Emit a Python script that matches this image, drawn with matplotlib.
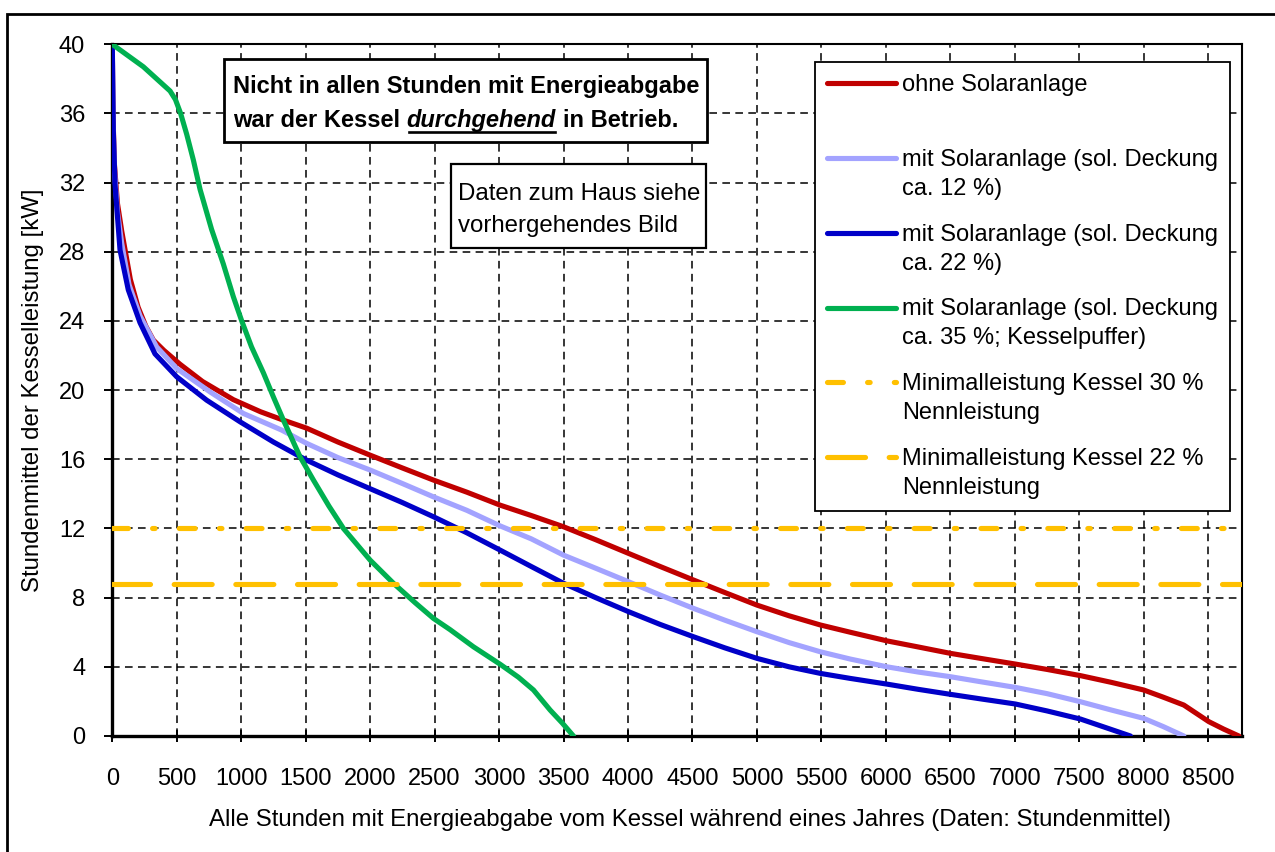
import numpy as np
import matplotlib
matplotlib.use("Agg")
import matplotlib.pyplot as plt
from matplotlib.patches import Rectangle
from matplotlib.lines import Line2D
from matplotlib.legend_handler import HandlerLine2D

plt.rcParams['font.family'] = ['Liberation Sans', 'DejaVu Sans']

# ---------------- data ----------------
x_ohne = [0, 5, 16, 40, 73, 140, 200, 260, 318, 400, 525, 700, 939, 1150, 1314, 1508, 1750,
          2000, 2250, 2491, 2750, 3008, 3250, 3500, 3750, 4004, 4250, 4508, 4750, 5000, 5250,
          5492, 5724, 6009, 6250, 6500, 6750, 7005, 7250, 7510, 7750, 8000, 8150, 8311, 8505,
          8620, 8738]
y_ohne = [40, 36, 33.1, 30.8, 29.2, 26.4, 24.8, 23.7, 22.9, 22.3, 21.5, 20.5, 19.45, 18.75, 18.3,
          17.8, 17.0, 16.24, 15.5, 14.8, 14.1, 13.35, 12.75, 12.1, 11.35, 10.56, 9.8, 9.02, 8.3,
          7.57, 6.95, 6.42, 6.0, 5.5, 5.15, 4.78, 4.47, 4.16, 3.85, 3.49, 3.1, 2.66, 2.25, 1.79,
          0.83, 0.4, 0.0]

x_sol12 = [0, 5, 16, 40, 73, 130, 215, 344, 500, 758, 1017, 1314, 1508, 1750, 2000, 2250, 2491,
           2750, 3008, 3250, 3500, 3750, 4004, 4250, 4508, 4750, 5000, 5250, 5492, 5724, 6009,
           6250, 6500, 6750, 7005, 7250, 7510, 7750, 8000, 8150, 8311]
y_sol12 = [40, 35.5, 32.8, 30.3, 28.5, 26.1, 24.3, 22.5, 21.25, 19.9, 18.65, 17.69, 16.92, 16.1,
           15.38, 14.6, 13.83, 13.05, 12.15, 11.4, 10.46, 9.7, 8.92, 8.15, 7.38, 6.7, 6.03, 5.4,
           4.87, 4.45, 4.0, 3.7, 3.43, 3.12, 2.81, 2.45, 1.98, 1.5, 1.02, 0.55, 0.0]

x_sol22 = [0, 3, 8, 21, 60, 124, 215, 331, 500, 732, 991, 1250, 1508, 1750, 2000, 2250, 2491,
           2750, 3008, 3250, 3500, 3750, 4004, 4250, 4508, 4750, 5000, 5250, 5492, 5724, 6009,
           6250, 6500, 6750, 7005, 7250, 7510, 7700, 7897]
y_sol22 = [40, 38, 35, 31.9, 28.1, 25.8, 23.9, 22.1, 20.77, 19.42, 18.17, 17.0, 15.95, 15.1, 14.3,
           13.5, 12.68, 11.75, 10.75, 9.8, 8.83, 8.0, 7.19, 6.45, 5.74, 5.1, 4.49, 4.0, 3.62,
           3.33, 3.0, 2.7, 2.41, 2.13, 1.85, 1.45, 0.98, 0.5, 0.0]

x_sol35 = [0, 241, 448, 490, 530, 577, 629, 681, 770, 861, 939, 1004, 1080, 1172, 1250, 1327,
           1456, 1560, 1680, 1793, 2000, 2181, 2350, 2491, 2620, 2801, 3008, 3150, 3267, 3396,
           3490, 3577]
y_sol35 = [40, 38.7, 37.3, 36.8, 36.0, 34.8, 33.3, 31.6, 29.3, 27.3, 25.4, 24.0, 22.5, 21.0, 19.6,
           18.27, 16.15, 14.8, 13.3, 12.0, 10.17, 8.83, 7.7, 6.8, 6.15, 5.16, 4.15, 3.4, 2.66,
           1.5, 0.75, 0.0]

min30 = 12.0   # Minimalleistung 30 % der Nennleistung (40 kW)
min22 = 8.8    # Minimalleistung 22 % der Nennleistung
hours_year = [0, 8760]

labels = ["ohne Solaranlage\n ",
          "mit Solaranlage (sol. Deckung\nca. 12 %)",
          "mit Solaranlage (sol. Deckung\nca. 22 %)",
          "mit Solaranlage (sol. Deckung\nca. 35 %; Kesselpuffer)",
          "Minimalleistung Kessel 30 %\nNennleistung",
          "Minimalleistung Kessel 22 %\nNennleistung"]

x_ticks = list(range(0, 9000, 500))
y_ticks = list(range(0, 44, 4))

xlabel = "Alle Stunden mit Energieabgabe vom Kessel während eines Jahres (Daten: Stundenmittel)"
ylabel = "Stundenmittel der Kesselleistung [kW]"

# ---------------- figure ----------------
W, H = 1275, 852
fig = plt.figure(figsize=(W / 100, H / 100), dpi=100)
ax_l, ax_r, ax_t, ax_b = 112.3, 1241.7, 44.3, 736.0
ax = fig.add_axes([ax_l / W, 1 - ax_b / H, (ax_r - ax_l) / W, (ax_b - ax_t) / H])

def ax_x(px):
    return (px - ax_l) / (ax_r - ax_l)

def ax_y(py):
    return (ax_b - py) / (ax_b - ax_t)

red, lblue, blue, green, gold = "#C00000", "#A3A3FF", "#0000C8", "#00B050", "#FFC000"

lw = 3.7
l1, = ax.plot(x_ohne, y_ohne, color=red, lw=lw, solid_capstyle='round', solid_joinstyle='round',
              zorder=3, label=labels[0])
l2, = ax.plot(x_sol12, y_sol12, color=lblue, lw=lw, solid_capstyle='round', solid_joinstyle='round',
              zorder=3, label=labels[1])
l3, = ax.plot(x_sol22, y_sol22, color=blue, lw=lw, solid_capstyle='round', solid_joinstyle='round',
              zorder=3, label=labels[2])
l4, = ax.plot(x_sol35, y_sol35, color=green, lw=lw, solid_capstyle='round', solid_joinstyle='round',
              zorder=3, label=labels[3])
l5, = ax.plot(hours_year, [min30, min30], color=gold, lw=lw, zorder=3, label=labels[4],
              linestyle=(0, (3.1, 4.7, 0.5, 4.7)))
l6, = ax.plot(hours_year, [min22, min22], color=gold, lw=lw, zorder=3, label=labels[5],
              linestyle=(0, (7.4, 4.6)))
for ln in (l5, l6):
    ln.set_dash_capstyle('round')

ax.set_xlim(0, 8760)
ax.set_ylim(0, 40)
ax.set_xticks(x_ticks)
ax.set_yticks(y_ticks)
ax.set_xticklabels([str(v) for v in x_ticks])
ax.set_yticklabels([str(v) for v in y_ticks])
ax.tick_params(axis='x', direction='inout', length=8, width=1.4, pad=19, labelsize=17)
ax.tick_params(axis='y', direction='out', length=6, width=1.4, pad=13.5, labelsize=17)
ax.grid(True, color='black', linestyle=(0, (5.0, 3.5)), linewidth=1.1)
ax.set_axisbelow(True)
for s in ['left', 'bottom']:
    ax.spines[s].set_linewidth(2.4)
for s in ['top', 'right']:
    ax.spines[s].set_linewidth(1.5)

ax.set_xlabel(xlabel, fontsize=17.3)
ax.xaxis.set_label_coords(ax_x(690), ax_y(809))
ax.set_ylabel(ylabel, fontsize=17.3)
ax.yaxis.set_label_coords(ax_x(44), 0.5)

# ---------------- legend ----------------
class TopHandler(HandlerLine2D):
    def __init__(self, shift, **kw):
        super().__init__(**kw)
        self.shift = shift

    def create_artists(self, legend, orig_handle, xdescent, ydescent, width, height, fontsize, trans):
        arts = super().create_artists(legend, orig_handle, xdescent, ydescent, width, height,
                                      fontsize, trans)
        for a in arts:
            a.set_ydata(np.asarray(a.get_ydata(), dtype=float) + self.shift * fontsize)
        return arts

handles = [l1, l2, l3, l4, l5, l6]
hmap = {h: TopHandler(0.70) for h in handles}
leg = ax.legend(handles=handles, labels=labels, loc='upper right',
                bbox_to_anchor=(ax_x(1230), ax_y(62.3)), borderaxespad=0, fontsize=17,
                frameon=True, fancybox=False, edgecolor='black', framealpha=1,
                handlelength=2.95, handletextpad=0.25, borderpad=0.5, labelspacing=1.0,
                handler_map=hmap)
for t in leg.get_texts():
    t.set_linespacing(1.42)
leg.get_frame().set_linewidth(1.3)
leg.set_zorder(6)

# ---------------- text boxes ----------------
box1 = Rectangle((ax_x(224.3), ax_y(142.3)), ax_x(706.7) - ax_x(224.3), ax_y(59) - ax_y(142.3),
                 transform=ax.transAxes, facecolor='white', edgecolor='black', lw=2.0, zorder=5)
ax.add_patch(box1)
box2 = Rectangle((ax_x(450.7), ax_y(247.7)), ax_x(705.7) - ax_x(450.7), ax_y(164.3) - ax_y(247.7),
                 transform=ax.transAxes, facecolor='white', edgecolor='black', lw=1.6, zorder=5)
ax.add_patch(box2)

FSB = 17
ax.text(ax_x(233.3), ax_y(93.3), "Nicht in allen Stunden mit Energieabgabe", transform=ax.transAxes,
        fontsize=FSB, fontweight='bold', va='baseline', ha='left', zorder=7)
t2 = ax.text(ax_x(233.3), ax_y(126.7), "war der Kessel", transform=ax.transAxes,
             fontsize=FSB, fontweight='bold', va='baseline', ha='left', zorder=7)
t3 = ax.annotate("durchgehend", xy=(1, 0), xycoords=t2, xytext=(4.7, 0), textcoords='offset points',
                 fontsize=FSB, fontweight='bold', fontstyle='italic', va='bottom', ha='left', zorder=7)
t4 = ax.annotate("in Betrieb.", xy=(1, 0), xycoords=t3, xytext=(4.7, 0), textcoords='offset points',
                 fontsize=FSB, fontweight='bold', va='bottom', ha='left', zorder=7)

ax.text(ax_x(458.3), ax_y(200), "Daten zum Haus siehe", transform=ax.transAxes,
        fontsize=17.3, va='baseline', ha='left', zorder=7)
ax.text(ax_x(458.3), ax_y(231.7), "vorhergehendes Bild", transform=ax.transAxes,
        fontsize=17.3, va='baseline', ha='left', zorder=7)

# underline for "durchgehend"
fig.canvas.draw()
bb = t3.get_window_extent(fig.canvas.get_renderer())
inv = ax.transAxes.inverted()
(ux0, _), (ux1, _) = inv.transform([(bb.x0, 0), (bb.x1, 0)])
ax.add_line(Line2D([ux0 + 0.002, ux1 - 0.001], [ax_y(132.3), ax_y(132.3)], transform=ax.transAxes,
                   color='black', lw=1.9, zorder=7))

# outer chart border
fig.add_artist(Rectangle((7 / W, -0.1), 1.2, 1.1 - 13.5 / H, transform=fig.transFigure,
                         fill=False, edgecolor='black', lw=2.0, clip_on=False))

fig.savefig("out.png", dpi=100)
